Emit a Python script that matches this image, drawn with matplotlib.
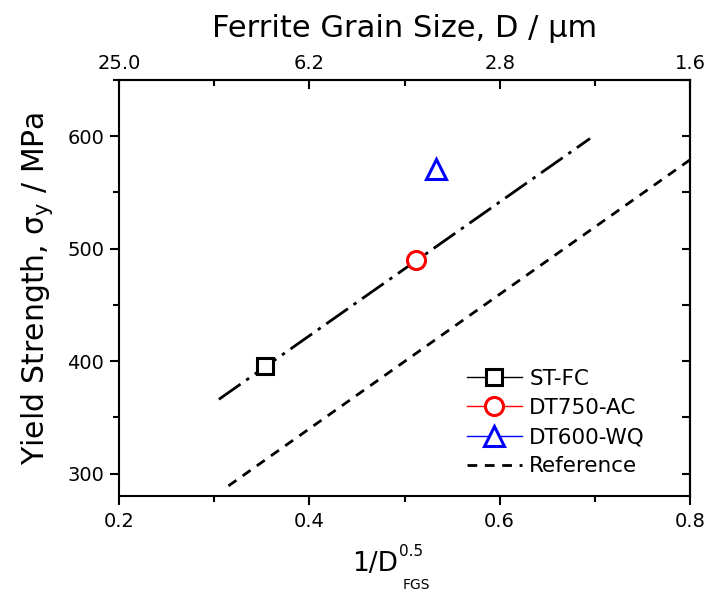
import matplotlib
matplotlib.use("Agg")
import matplotlib.pyplot as plt
from matplotlib.ticker import MultipleLocator

plt.rcParams["font.family"] = ["DejaVu Sans"]
plt.rcParams["mathtext.fontset"] = "dejavusans"
plt.rcParams["lines.scale_dashes"] = False

# Bottom axis: 1/sqrt(D); top axis shows the matching ferrite grain size D (um)
inv_sqrt_d_ticks = [0.2, 0.4, 0.6, 0.8]
grain_size_labels = ["25.0", "6.2", "2.8", "1.6"]

# Measured yield strength for each processing route
samples = ["ST-FC", "DT750-AC", "DT600-WQ"]
inv_sqrt_d = [0.353, 0.512, 0.533]
yield_strength = [396, 490, 571]

# Hall-Petch fit through the measured points and the literature reference line
fit_x = [0.305, 0.695]
fit_y = [366, 598]
ref_x = [0.315, 0.80]
ref_y = [289, 579]

colors = ["black", "red", "blue"]
markers = ["s", "o", "^"]
marker_sizes = [11, 13, 15]

fig = plt.figure(figsize=(7.10, 5.92), dpi=100)
ax = fig.add_axes([119 / 710, 96 / 592, 571 / 710, 416 / 592])

ax.plot(fit_x, fit_y, color="black", lw=2.0,
        linestyle=(0, (19, 5, 2.5, 5)), zorder=2)
ref_line, = ax.plot(ref_x, ref_y, color="black", lw=2.0,
                    linestyle=(0, (7, 5.5)), label="Reference", zorder=2)

handles = []
for name, x, y, c, m, ms in zip(samples, inv_sqrt_d, yield_strength,
                                colors, markers, marker_sizes):
    h, = ax.plot([x], [y], linestyle="-", lw=1.0, color=c, marker=m,
                 markersize=ms, markerfacecolor="white", markeredgecolor=c,
                 markeredgewidth=2.2, label=name, zorder=3)
    handles.append(h)
handles.append(ref_line)

ax.set_xlim(0.2, 0.8)
ax.set_ylim(280, 650)
ax.xaxis.set_major_locator(MultipleLocator(0.2))
ax.xaxis.set_minor_locator(MultipleLocator(0.1))
ax.yaxis.set_major_locator(MultipleLocator(100))
ax.yaxis.set_minor_locator(MultipleLocator(50))
ax.tick_params(which="both", direction="out", width=1.5, labelsize=14,
               top=False, right=False)
ax.tick_params(which="major", length=6.5)
ax.tick_params(which="minor", length=4)
ax.tick_params(axis="x", pad=5)
ax.tick_params(axis="y", pad=4)
for sp in ax.spines.values():
    sp.set_linewidth(1.5)

# Right axis: inward ticks, no labels
right = ax.secondary_yaxis("right")
right.yaxis.set_major_locator(MultipleLocator(100))
right.yaxis.set_minor_locator(MultipleLocator(50))
right.tick_params(which="both", direction="in", length=5.5, width=1.5,
                  labelright=False)
right.spines["right"].set_linewidth(1.5)

# Top axis: grain size labels, inward ticks
top = ax.secondary_xaxis("top")
top.set_xticks(inv_sqrt_d_ticks, labels=grain_size_labels)
top.xaxis.set_minor_locator(MultipleLocator(0.1))
top.tick_params(which="both", direction="in", width=1.5, labelsize=14, pad=5)
top.tick_params(which="major", length=6.5)
top.tick_params(which="minor", length=4)
top.spines["top"].set_linewidth(1.5)
top.set_xlabel("Ferrite Grain Size, D / µm", fontsize=22, labelpad=12)

ax.set_ylabel(r"Yield Strength, $\mathregular{\sigma_y}$ / MPa",
              fontsize=21.5, labelpad=9)

# x label with superscript / subscript drawn as separate texts
fig.text(398 / 710, (592 - 571) / 592, "1/D", fontsize=19,
         ha="right", va="baseline")
fig.text(399 / 710, (592 - 556) / 592, "0.5", fontsize=11,
         ha="left", va="baseline")
fig.text(403 / 710, (592 - 589) / 592, "FGS", fontsize=10,
         ha="left", va="baseline")

ax.legend(handles=handles, loc="upper left", bbox_to_anchor=(0.609, 0.306),
          frameon=False, fontsize=15.5, handlelength=2.55,
          handletextpad=0.35, labelspacing=0.43, borderpad=0,
          borderaxespad=0, numpoints=1)

fig.savefig("out.png", dpi=100)
